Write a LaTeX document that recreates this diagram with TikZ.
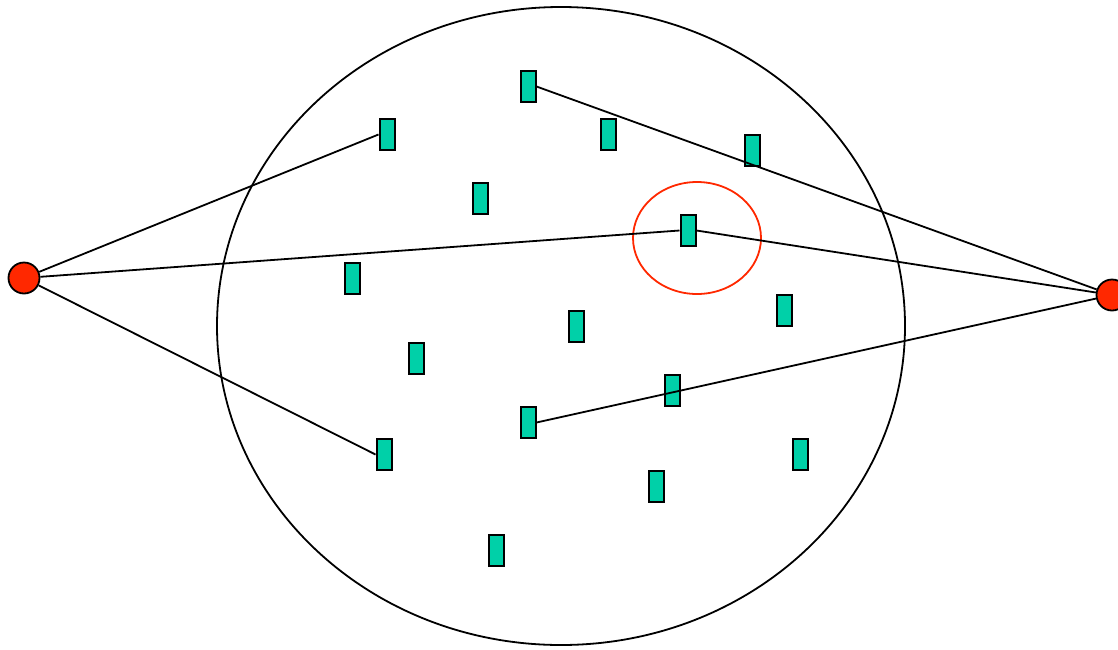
\documentclass[tikz,border=0pt]{standalone}
\begin{document}
\begin{tikzpicture}[x=1pt,y=-1pt,
  bar/.style={draw=black,line width=2pt,fill=barfill,minimum width=15pt,minimum height=31pt,inner sep=0pt},
  dot/.style={circle,draw=black,line width=1.8pt,fill=dotred,minimum size=31pt,inner sep=0pt},
  wire/.style={line width=1.8pt}]
\definecolor{barfill}{RGB}{0,208,168}
\definecolor{dotred}{RGB}{255,40,0}
\useasboundingbox (0,0) rectangle (1118,649);
\draw[line width=1.8pt] (561,326) ellipse [x radius=344, y radius=319];
\draw[line width=1.8pt,draw=dotred] (697,238) ellipse [x radius=64, y radius=56];
\foreach \n/\x/\y in {1/528/86.5,2/387/134.5,3/608/134.5,4/752/150.5,5/480/198.5,6/688/230.5,7/352/278.5,8/784/310.5,9/576/326.5,10/416/358.5,11/672/390.5,12/528/422.5,13/384/454.5,14/800/454.5,15/656/486.5,16/496/550.5}
  \node[bar] (r\n) at (\x,\y) {};
\node[dot] (L) at (24,278) {};
\node[dot] (R) at (1112,295) {};
\draw[wire] (L) -- (r2.west);
\draw[wire] (L) -- (r6.west);
\draw[wire] (L) -- (r13.west);
\draw[wire] (r1.east) -- (R);
\draw[wire] (r6.east) -- (R);
\draw[wire] (r12.east) -- (R);
\end{tikzpicture}
\end{document}
